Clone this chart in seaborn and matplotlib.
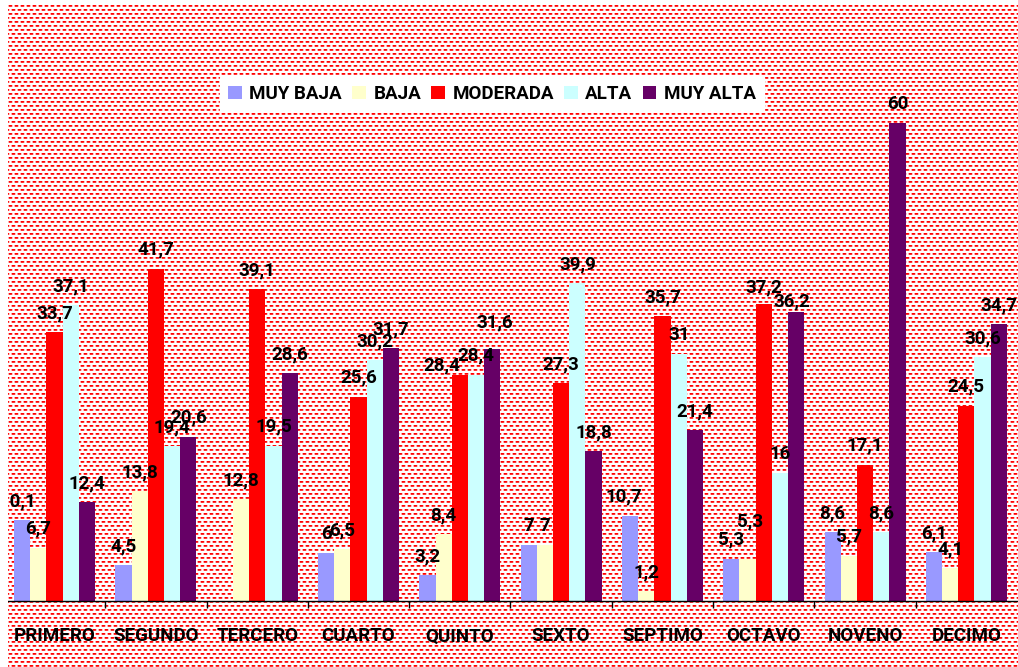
import numpy as np
import pandas as pd
import matplotlib
matplotlib.use("Agg")
import matplotlib.pyplot as plt
import matplotlib.patches as mpatches
import seaborn as sns

# ---------------- data ----------------
categories = ["PRIMERO", "SEGUNDO", "TERCERO", "CUARTO", "QUINTO",
              "SEXTO", "SEPTIMO", "OCTAVO", "NOVENO", "DECIMO"]
series = ["MUY BAJA", "BAJA", "MODERADA", "ALTA", "MUY ALTA"]
muy_baja = [10.1, 4.5, np.nan, 6, 3.2, 7, 10.7, 5.3, 8.6, 6.1]
baja = [6.7, 13.8, 12.8, 6.5, 8.4, 7, 1.2, 5.3, 5.7, 4.1]
moderada = [33.7, 41.7, 39.1, 25.6, 28.4, 27.3, 35.7, 37.2, 17.1, 24.5]
alta = [37.1, 19.4, 19.5, 30.2, 28.4, 39.9, 31, 16, 8.6, 30.6]
muy_alta = [12.4, 20.6, 28.6, 31.7, 31.6, 18.8, 21.4, 36.2, 60, 34.7]

colors = ["#9999FF", "#FFFFCC", "#FF0000", "#CCFFFF", "#660066"]

values = [muy_baja, baja, moderada, alta, muy_alta]
rows = []
for s, vals in zip(series, values):
    for c, v in zip(categories, vals):
        rows.append({"cat": c, "serie": s, "val": v})
df = pd.DataFrame(rows)

# ---------------- style ----------------
sns.set_theme(style="white")
plt.rcParams["font.family"] = ["Roboto", "DejaVu Sans"]
FS = 13.5
WEIGHT = "bold"

W, H = 1018, 667
fig = plt.figure(figsize=(W / 100, H / 100), dpi=100, facecolor="white")

# background dash pattern like the Excel fill, drawn in a background axes
tile = np.zeros((8, 6))
tile[0] = [0.35, 1, 1, 0.95, 0.25, 0]
tile[1] = [0.25, 0.8, 0.8, 0.75, 0.2, 0]
tile[4] = np.roll(tile[0], 3)
tile[5] = np.roll(tile[1], 3)
ph, pw = H - 5, W - 8
reps = np.tile(tile, (ph // 8 + 1, pw // 6 + 1))[:ph, :pw]
img = np.ones((ph, pw, 3))
img[..., 1] = 1 - reps
img[..., 2] = 1 - reps
bg = fig.add_axes([8 / W, 0, pw / W, ph / H], zorder=-1)
bg.imshow(img, interpolation="nearest", aspect="auto")
bg.set_axis_off()

ax = fig.add_axes([8 / W, 66 / H, 1010 / W, 558 / H], zorder=1)
ax.patch.set_alpha(0)

sns.barplot(data=df, x="cat", y="val", hue="serie", order=categories,
            hue_order=series, palette=colors, saturation=1, width=0.8,
            linewidth=0, edgecolor="none", ax=ax, legend=True, errorbar=None)

ax.set_xlim(-0.46, 9.51)
ax.set_ylim(0, 70)
ax.set_xlabel("")
ax.set_ylabel("")
ax.set_yticks([])
for sp in ["left", "right", "top"]:
    ax.spines[sp].set_visible(False)
ax.spines["bottom"].set_color("black")
ax.spines["bottom"].set_linewidth(1)

ax.tick_params(axis="x", which="major", length=0, pad=19)
ax.set_xticks(np.arange(0.5, 9.0, 1), minor=True)
ax.tick_params(axis="x", which="minor", length=5, width=1, color="black",
               direction="out", bottom=True)
for lab in ax.get_xticklabels():
    lab.set_fontsize(FS)
    lab.set_fontweight(WEIGHT)
    lab.set_color("black")

# data labels (pixel offsets for hand-moved labels)
label_offsets = {("QUINTO", "MODERADA"): (-18, -10),
                 ("QUINTO", "MUY ALTA"): (2, 8),
                 ("OCTAVO", "BAJA"): (3, 18),
                 ("OCTAVO", "MODERADA"): (0, -2),
                 ("OCTAVO", "MUY ALTA"): (-4, -8),
                 ("SEXTO", "MUY BAJA"): (-6, 0),
                 ("PRIMERO", "MUY BAJA"): (-4, 0)}
for s, cont in zip(series, ax.containers):
    for c, bar in zip(categories, cont):
        h = bar.get_height()
        if not np.isfinite(h) or h == 0:
            continue
        txt = f"{h:g}".replace(".", ",")
        dx, dy = label_offsets.get((c, s), (0, 0))
        ax.annotate(txt, (bar.get_x() + bar.get_width() / 2, h),
                    xytext=(dx, 19 + dy), textcoords="offset pixels",
                    ha="center", va="center", fontsize=FS,
                    fontweight=WEIGHT, color="black", annotation_clip=False)

leg = ax.legend(loc="center", bbox_to_anchor=(492 / W, 1 - 94 / H),
                bbox_transform=fig.transFigure, ncol=5, frameon=True,
                fancybox=False, framealpha=1, facecolor="white",
                edgecolor="white", prop={"size": FS, "weight": WEIGHT},
                handlelength=0.72, handleheight=0.72, handletextpad=0.4,
                columnspacing=0.55, borderpad=0.45, borderaxespad=0)
for t in leg.get_texts():
    t.set_color("black")

# white margin strip at the left edge (the chart area is clipped there)
fig.patches.append(mpatches.Rectangle((0, 0), 8 / W, 1, transform=fig.transFigure,
                                      facecolor="white", edgecolor="none",
                                      zorder=10))

fig.savefig("out.png", dpi=100, facecolor="white")
